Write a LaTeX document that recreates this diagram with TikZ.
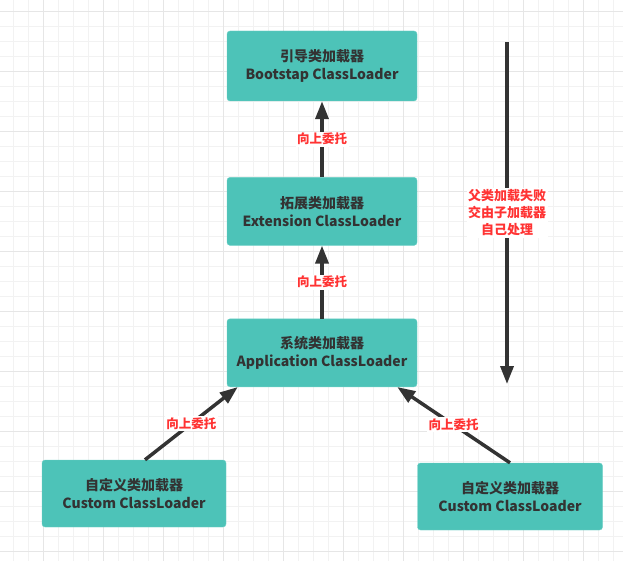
\documentclass[tikz,border=0pt]{standalone}
\usepackage{fontspec}
\setmainfont{Noto Sans CJK SC}
\usetikzlibrary{arrows.meta,positioning}
\definecolor{loaderfill}{HTML}{4DC3B8}
\definecolor{loaderedge}{HTML}{6ED0C6}
\definecolor{ink}{HTML}{333333}
\definecolor{tagred}{HTML}{FF3333}
\definecolor{gridminor}{HTML}{F2F2F2}
\definecolor{gridmajor}{HTML}{E6E6E6}

\begin{document}
\begin{tikzpicture}
[x=1pt, y=-1pt, node distance=75pt, font=\fontsize{14}{18.5}\selectfont\bfseries,
% STYLES
% The loader style is used to draw the class loader boxes
loader/.style={rectangle, rounded corners=3pt, draw=loaderedge, fill=loaderfill, text=ink, minimum width=190pt, minimum height=70pt, align=center, inner sep=0pt},
% The tag style is used to write the red labels on the arrows
tag/.style={fill=white, text=tagred, inner sep=1.5pt, align=center, font=\fontsize{12.5}{17}\selectfont\bfseries},
% The delegate style is used to draw the thick arrows
delegate/.style={-{Triangle[width=13pt,length=18pt]}, line width=3.5pt, color=ink}]

\useasboundingbox (0,0) rectangle (623,561);

% Draw grid
\foreach \gx in {0,...,40} {\draw[gridminor, line width=0.8pt] (13.3+15*\gx,0) -- (13.3+15*\gx,561);}
\foreach \gy in {0,...,36} {\draw[gridminor, line width=0.8pt] (0,11+15*\gy) -- (623,11+15*\gy);}
\foreach \gx in {0,...,9} {\draw[gridmajor, line width=0.8pt] (43.3+60*\gx,0) -- (43.3+60*\gx,561);}
\foreach \gy in {0,...,9} {\draw[gridmajor, line width=0.8pt] (0,11+60*\gy) -- (623,11+60*\gy);}

% Draw loaders
\node [loader] (bootstrap) at (322,66) {引导类加载器\\Bootstap ClassLoader};
\node [loader, minimum height=68pt, below=76pt of bootstrap] (extension) {拓展类加载器\\Extension ClassLoader};
\node [loader, minimum height=68pt, below=73pt of extension] (application) {系统类加载器\\Application ClassLoader};
\node [loader, minimum width=184pt, minimum height=67pt] (custom-left) at (134,493.5) {自定义类加载器\\Custom ClassLoader};
\node [loader, minimum width=185pt, minimum height=67pt] (custom-right) at (510,496.5) {自定义类加载器\\Custom ClassLoader};

% FAILURE
\coordinate (fail-top) at (507,42);
\coordinate (fail-bottom) at (507,384);

% Draw the links between loaders
\path[delegate]
(extension) edge node[tag] {向上委托} (bootstrap)
(application) edge node[tag] {向上委托} (extension)
([xshift=11pt]custom-left.north) edge node[tag] {向上委托} ([xshift=11pt]application.south west)
(custom-right.north) edge node[tag] {向上委托} ([xshift=-20pt]application.south east)
(fail-top) edge node[tag, font=\fontsize{13}{17}\selectfont\bfseries] {父类加载失败\\交由子加载器\\自己处理} (fail-bottom);

\end{tikzpicture}
\end{document}
